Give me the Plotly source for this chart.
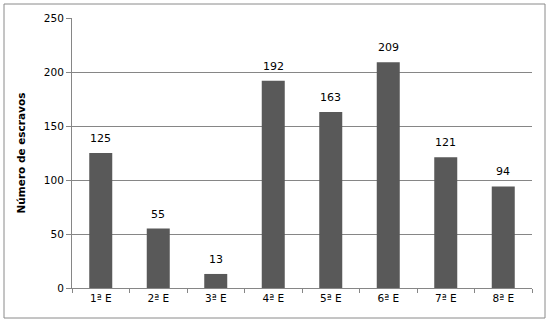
import plotly.graph_objects as go

categories = ["1ª E", "2ª E", "3ª E", "4ª E", "5ª E", "6ª E", "7ª E", "8ª E"]
values = [125, 55, 13, 192, 163, 209, 121, 94]
y_ticks = [0, 50, 100, 150, 200, 250]

fig = go.Figure(go.Bar(
    x=categories, y=values,
    marker=dict(color="#595959", line=dict(width=0)),
    width=0.4,
))

annotations = [dict(x=c, y=v, text=str(v), showarrow=False, yanchor="bottom",
                    yshift=6, font=dict(family="DejaVu Sans", size=11, color="#000000"))
               for c, v in zip(categories, values)]

fig.update_layout(
    width=550, height=324,
    margin=dict(l=72, r=18, t=18, b=36),
    paper_bgcolor="white", plot_bgcolor="white",
    showlegend=False,
    font=dict(family="DejaVu Sans", size=11, color="#000000"),
    annotations=annotations,
    shapes=[dict(type="rect", xref="paper", yref="paper",
                 x0=-68/460, x1=(545-72)/460, y0=-(318-288)/270, y1=(288-4)/270,
                 line=dict(color="#8a8a8a", width=1), fillcolor="rgba(0,0,0,0)", layer="below")],
)
fig.update_xaxes(
    type="category", tickson="boundaries", ticks="outside", ticklen=4,
    tickcolor="#868686", showline=True, linecolor="#868686", linewidth=1,
    showgrid=False, tickfont=dict(size=10.5),
)
fig.update_yaxes(
    range=[0, 250], tickvals=y_ticks, ticks="outside", ticklen=5,
    tickcolor="#868686", showline=True, linecolor="#868686", linewidth=1,
    showgrid=True, gridcolor="#868686", gridwidth=1, zeroline=False,
    tickfont=dict(size=10.5),
    title=dict(text="<b>Número de escravos</b>", font=dict(size=10.5), standoff=16),
)

fig.write_html("out.html", config={"displayModeBar": False},
               post_script="document.body.style.margin='0';")
